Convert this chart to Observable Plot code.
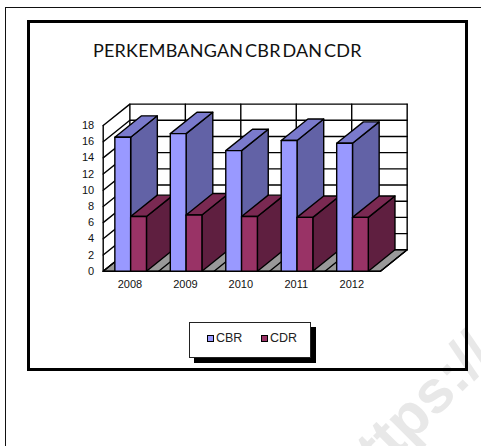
<!DOCTYPE html>
<html>
<head>
<meta charset="utf-8">
<script src="https://cdn.jsdelivr.net/npm/d3@7"></script>
<script src="https://cdn.jsdelivr.net/npm/@observablehq/plot@0.6"></script>
<style>
html,body{margin:0;padding:0;background:#fff;overflow:hidden}
#page{position:relative;width:481px;height:446px;overflow:hidden}
#outer{position:absolute;left:5px;top:7px;width:480px;height:450px;border:1.5px solid #111;box-sizing:border-box}
#inner{position:absolute;left:27px;top:20px;width:441px;height:351px;border:3px solid #000;box-sizing:border-box}
#title{position:absolute;left:93px;top:39px;font:18px Lato,sans-serif;color:#111;white-space:nowrap;word-spacing:-3px;letter-spacing:.2px}
#mark{position:absolute;left:316px;top:460px;font:bold 60px "Liberation Sans",sans-serif;color:#e8e8e8;white-space:nowrap;transform-origin:0 0;transform:rotate(-45deg)}
#chart{position:absolute;left:0;top:0}
#legend{position:absolute;left:189px;top:322px;width:122px;height:36px;box-sizing:border-box;background:#fff;border:1px solid #222;box-shadow:5px 5px 0 #000;font:12.5px "Liberation Sans",sans-serif;color:#222}
#legend i{position:absolute;top:12px;width:5px;height:5px;border:1.5px solid #000}
#legend span{position:absolute;top:8px}
</style>
</head>
<body>
<div id="page">
  <div id="mark">https://</div>
  <div id="outer"></div>
  <div id="inner"></div>
  <div id="title">PERKEMBANGAN CBR DAN CDR</div>
  <div id="chart"></div>
  <div id="legend">
    <i style="left:17px;background:#9999ff"></i><span style="left:26px">CBR</span>
    <i style="left:71px;background:#993366"></i><span style="left:80px">CDR</span>
  </div>
</div>
<script>
const years = ["2008","2009","2010","2011","2012"];
const cbr = [16.55,17.0,14.9,16.15,15.8];
const cdr = [6.75,6.95,6.75,6.65,6.65];
const yTicks = [0,2,4,6,8,10,12,14,16,18];

// oblique projection: one unit of depth, in x and y scale units
const DX = 0.481, DY = 2.645;
const gap = 0.21, barW = 0.285;
const P = (x, y, d) => ({x: x + d * DX, y: y + d * DY});

const polys = [];
const add = (id, color, pts) => pts.forEach(p => polys.push({...p, id, color}));
const n = years.length, yMax = yTicks[yTicks.length - 1];

add("floor", "#999999", [P(0,0,0), P(n,0,0), P(n,0,1), P(0,0,1)]);

function bar(id, x0, x1, v, front, roof, side) {
  add(id + "s", side, [P(x1,0,0), P(x1,0,1), P(x1,v,1), P(x1,v,0)]);
  add(id + "t", roof, [P(x0,v,0), P(x1,v,0), P(x1,v,1), P(x0,v,1)]);
  add(id + "f", front, [P(x0,0,0), P(x1,0,0), P(x1,v,0), P(x0,v,0)]);
}
years.forEach((y, i) => {
  const a = i + gap, b = a + barW, c = b + barW;
  bar("cbr" + y, a, b, cbr[i], "#9999ff", "#7a7acc", "#6262a6");
  bar("cdr" + y, b, c, cdr[i], "#993366", "#7a2952", "#5f1f40");
});

const grid = [];
const seg = (id, ...pts) => pts.forEach(p => grid.push({...p, id}));
yTicks.forEach(t => seg("h" + t, P(0,t,0), P(0,t,1), P(n,t,1)));
d3.range(n + 1).forEach(i => seg("v" + i, P(i,0,0), P(i,0,1), P(i,yMax,1)));
seg("front", P(0,yMax,0), P(0,0,0), P(n,0,0));
seg("right", P(n,0,0), P(n,0,1));

const plot = Plot.plot({
  width: 481, height: 446,
  x: {domain: [0, n], range: [102.7, 380], axis: null},
  y: {domain: [0, yMax], range: [270.7, 125], axis: null},
  color: {type: "identity"},
  style: {background: "transparent"},
  marks: [
    Plot.line(polys.filter(d => d.id === "floor"), {x:"x", y:"y", z:"id", fill:"color", stroke:"#111", strokeWidth:1, curve:"linear-closed"}),
    Plot.line(grid, {x:"x", y:"y", z:"id", stroke:"#000", strokeWidth:1.4}),
    Plot.line(polys.filter(d => d.id !== "floor"), {x:"x", y:"y", z:"id", fill:"color", stroke:"#000", strokeWidth:1.4, strokeLinejoin:"round", curve:"linear-closed"}),
    Plot.text(yTicks, {x: () => 0, y: d => d, text: d => String(d), textAnchor:"end", dx:-9, fontSize:11, fontFamily:"Liberation Sans", fill:"#111"}),
    Plot.text(years, {x: (d,i) => i + 0.5, y: () => 0, text: d => d, dx:-1, dy:13, fontSize:11, fontFamily:"Liberation Sans", fill:"#111"})
  ]
});
document.getElementById("chart").appendChild(plot);
</script>
</body>
</html>
